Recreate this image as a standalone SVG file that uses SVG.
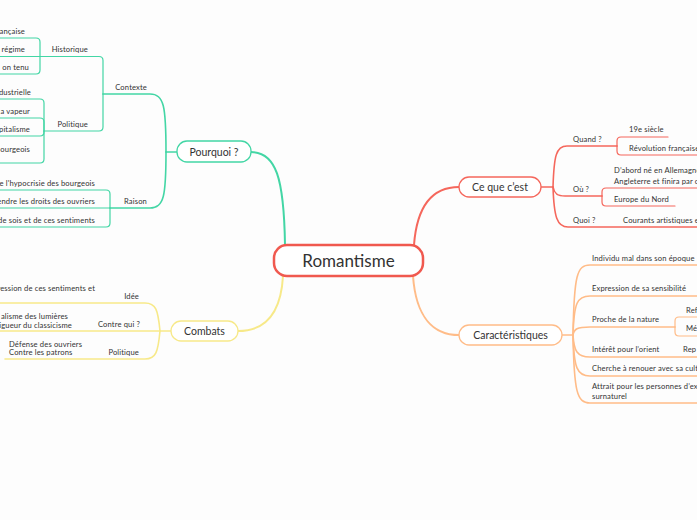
<svg xmlns="http://www.w3.org/2000/svg" width="697" height="520" viewBox="0 0 697 520">
<style>
  text { font-family: Lato, "Open Sans", sans-serif; fill: #333; }
  .t { font-size: 7.6px; letter-spacing: 0.14px; }
  .e { text-anchor: end; }
  .m { font-size: 10.5px; text-anchor: middle; }
  .c { font-size: 17px; text-anchor: middle; }
  .ln { fill: none; stroke-linecap: round; stroke-linejoin: round; }
  .g { stroke: #43D6A5; stroke-width: 1.2; }
  .y { stroke: #F7E989; stroke-width: 1.2; }
  .r { stroke: #F5675C; stroke-width: 1.2; }
  .o { stroke: #FFBC88; stroke-width: 1.2; }
  .main { stroke-width: 2; }
  .mid { stroke-width: 1.6; }
  .node { fill: #fff; stroke-width: 1.3; }
</style>
<rect width="697" height="520" fill="#fdfdfd"/>

<g id="connectors">
  <!-- central to main branches -->
  <path class="ln g main" d="M285,245 C284,178 276,152 251,152"/>
  <path class="ln y main" d="M283,276 C281,312 266,331 238,331"/>
  <path class="ln r main" d="M414,245 C417,205 433,187 459,187"/>
  <path class="ln o main" d="M413,276 C416,318 434,335 459,335"/>

  <!-- Pourquoi subtree -->
  <path class="ln g mid" d="M177,152 L166,152"/>
  <path class="ln g mid" d="M166,152 C166,106 164,94 150,94 L103,94"/>
  <path class="ln g mid" d="M166,152 C166,196 164,208 150,208 L110,208"/>
  <path class="ln g" d="M103,94 L103,60.5 Q103,56.5 99,56.5 L40,56.5"/>
  <path class="ln g" d="M103,94 L103,127 Q103,131 99,131 L44,131"/>
  <path class="ln g" d="M40,56.5 L40,42 Q40,38 36,38 L0,38"/>
  <path class="ln g" d="M40,56.5 L0,56.5"/>
  <path class="ln g" d="M40,56.5 L40,70 Q40,74 36,74 L0,74"/>
  <path class="ln g" d="M44,131 L44,103 Q44,99 40,99 L0,99"/>
  <path class="ln g" d="M44,131 L44,122 Q44,118 40,118 L0,118"/>
  <path class="ln g" d="M44,131 L44,132 Q44,136 40,136 L0,136"/>
  <path class="ln g" d="M44,131 L44,159 Q44,163 40,163 L0,163"/>
  <path class="ln g" d="M110,208 L110,194 Q110,190 106,190 L0,190"/>
  <path class="ln g" d="M110,208 L0,208"/>
  <path class="ln g" d="M110,208 L110,223 Q110,227 106,227 L0,227"/>

  <!-- Combats subtree -->
  <path class="ln y mid" d="M171,331 L0,331"/>
  <path class="ln y mid" d="M160,331 C158,310 156,303 145,303 L0,303"/>
  <path class="ln y mid" d="M160,331 C158,352 156,359 145,359 L5,359"/>

  <!-- Ce que c'est subtree -->
  <path class="ln r mid" d="M541,187 L553,187"/>
  <path class="ln r mid" d="M553,187 C554,156 556,146 567,146 L617,146"/>
  <path class="ln r mid" d="M553,187 C554,193 557,196 565,196 L602,196"/>
  <path class="ln r mid" d="M553,187 C554,217 557,227 568,227 L697,227"/>
  <path class="ln r" d="M617,146 L617,141 Q617,137 621,137 L668,137"/>
  <path class="ln r" d="M617,146 L617,151 Q617,155 621,155 L697,155"/>
  <path class="ln r" d="M602,196 L602,192 Q602,188 606,188 L697,188"/>
  <path class="ln r" d="M602,196 L602,202 Q602,206 606,206 L675,206"/>

  <!-- Caracteristiques subtree -->
  <path class="ln o mid" d="M562,335 L573,335"/>
  <path class="ln o mid" d="M573,335 C574,275 577,265 590,265 L697,265"/>
  <path class="ln o mid" d="M573,335 C574,303 577,296 590,296 L697,296"/>
  <path class="ln o mid" d="M573,335 C574,329 577,327 590,327 L675,327"/>
  <path class="ln o mid" d="M573,335 C574,351 577,357 590,357 L697,357"/>
  <path class="ln o mid" d="M573,335 C574,368 577,376 590,376 L697,376"/>
  <path class="ln o mid" d="M573,335 C574,392 577,403 590,403 L697,403"/>
  <path class="ln o" d="M675,327 L675,321 Q675,317 679,317 L697,317"/>
  <path class="ln o" d="M675,327 L675,332 Q675,336 679,336 L697,336"/>
</g>

<g id="romantisme">
  <rect x="274" y="245" width="149" height="31" rx="13" fill="#fff" stroke="#F0594F" stroke-width="2.5"/>
  <text class="c" x="348.5" y="267">Romantisme</text>
</g>

<g id="pourquoi">
  <rect class="node" x="177" y="141" width="74" height="21" rx="10" stroke="#43D6A5"/>
  <text class="m" x="214" y="155.5">Pourquoi ?</text>
</g>
<g id="contexte"><text class="t e" x="147" y="89.5">Contexte</text></g>
<g id="historique"><text class="t e" x="88" y="52">Historique</text></g>
<g id="hist-1"><text class="t e" x="25" y="33.5">ançaise</text></g>
<g id="hist-2"><text class="t e" x="25" y="52">régime</text></g>
<g id="hist-3"><text class="t e" x="29" y="69.5">on tenu</text></g>
<g id="politique"><text class="t e" x="88" y="126.5">Politique</text></g>
<g id="pol-1"><text class="t e" x="31" y="94.5">dustrielle</text></g>
<g id="pol-2"><text class="t e" x="30" y="113.5">a vapeur</text></g>
<g id="pol-3"><text class="t e" x="30" y="131.5">pitalisme</text></g>
<g id="pol-4"><text class="t e" x="30" y="151.5">ourgeois</text></g>
<g id="raison"><text class="t e" x="147" y="203.5">Raison</text></g>
<g id="rai-1"><text class="t e" x="95" y="185.5">e l'hypocrisie des bourgeois</text></g>
<g id="rai-2"><text class="t e" x="95" y="203.5">endre les droits des ouvriers</text></g>
<g id="rai-3"><text class="t e" x="95" y="222.5">de sois et de ces sentiments</text></g>

<g id="combats">
  <rect class="node" x="171" y="321" width="67" height="20" rx="10" stroke="#F7E989"/>
  <text class="m" x="204.5" y="335">Combats</text>
</g>
<g id="idee"><text class="t e" x="139" y="298.5">Idée</text></g>
<g id="idee-1"><text class="t e" x="95" y="290.5">ression de ces sentiments et</text></g>
<g id="contrequi"><text class="t e" x="140" y="326.5">Contre qui ?</text></g>
<g id="contrequi-1"><text class="t e" x="68" y="318.5">alisme des lumières</text><text class="t e" x="72" y="327.5">igueur du classicisme</text></g>
<g id="politique2"><text class="t e" x="139" y="354.5">Politique</text></g>
<g id="politique2-1"><text class="t" x="9" y="346.5">Défense des ouvriers</text><text class="t" x="9" y="355">Contre les patrons</text></g>

<g id="cequecest">
  <rect class="node" x="459" y="177" width="82" height="20" rx="10" stroke="#F5675C"/>
  <text class="m" x="500" y="190.5">Ce que c’est</text>
</g>
<g id="quand"><text class="t" x="573" y="141.5">Quand ?</text></g>
<g id="quand-1"><text class="t" x="629" y="132">19e siècle</text></g>
<g id="quand-2"><text class="t" x="629" y="150.5">Révolution française</text></g>
<g id="ou"><text class="t" x="573" y="191.5">Où ?</text></g>
<g id="ou-1"><text class="t" x="614" y="172.5">D’abord né en Allemagne</text><text class="t" x="614" y="183.5">Angleterre et finira par c</text></g>
<g id="ou-2"><text class="t" x="614" y="201.5">Europe du Nord</text></g>
<g id="quoi"><text class="t" x="573" y="222.5">Quoi ?</text></g>
<g id="quoi-1"><text class="t" x="623" y="222.5">Courants artistiques e</text></g>

<g id="caracteristiques">
  <rect class="node" x="459" y="325" width="103" height="20" rx="10" stroke="#FFBC88"/>
  <text class="m" x="510.5" y="338.5">Caractéristiques</text>
</g>
<g id="car-1"><text class="t" x="592" y="260.5">Individu mal dans son époque</text></g>
<g id="car-2"><text class="t" x="592" y="291">Expression de sa sensibilité</text></g>
<g id="car-3"><text class="t" x="592" y="322">Proche de la nature</text></g>
<g id="car-3-1"><text class="t" x="686" y="312.5">Ref</text></g>
<g id="car-3-2"><text class="t" x="686" y="331">Mét</text></g>
<g id="car-4"><text class="t" x="592" y="352">Intérêt pour l’orient</text></g>
<g id="car-4-1"><text class="t" x="683" y="352">Rep</text></g>
<g id="car-5"><text class="t" x="592" y="371">Cherche à renouer avec sa cult</text></g>
<g id="car-6"><text class="t" x="592" y="389">Attrait pour les personnes d’ex</text><text class="t" x="592" y="398.5">surnaturel</text></g>
</svg>
